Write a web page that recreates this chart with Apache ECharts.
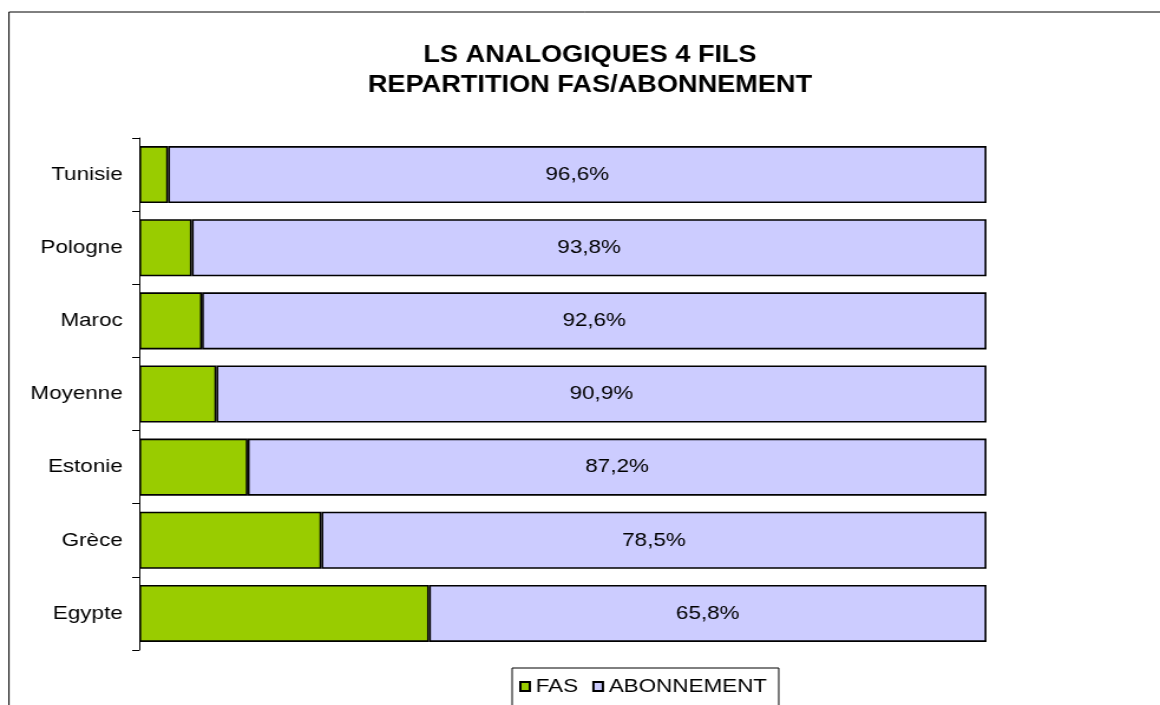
<!DOCTYPE html>
<html>
<head>
<meta charset="utf-8">
<script src="https://cdn.jsdelivr.net/npm/echarts@6/dist/echarts.min.js"></script>
<style>
  html, body { margin: 0; padding: 0; background: #fff; overflow: hidden; }
  /* the source picture is stretched sideways, so the chart is drawn narrower and widened */
  #chart { width: 983px; height: 705px; transform: scaleX(1.18); transform-origin: 0 0; }
</style>
</head>
<body>
<div id="chart"></div>
<script>
// categories bottom -> top
var pays = ['Egypte', 'Grèce', 'Estonie', 'Moyenne', 'Maroc', 'Pologne', 'Tunisie']
var fas = [34.2, 21.5, 12.8, 9.1, 7.4, 6.2, 3.4]
var abonnement = [65.8, 78.5, 87.2, 90.9, 92.6, 93.8, 96.6]

var myChart = echarts.init(document.getElementById('chart'))

var police = 'Arial, Liberation Sans, sans-serif'

var option = {
  animation: false,
  title: {
    text: 'LS ANALOGIQUES 4 FILS\nREPARTITION FAS/ABONNEMENT',
    left: 495,
    textAlign: 'center',
    top: 36,
    textStyle: {
      fontFamily: police,
      fontSize: 23,
      fontWeight: 'bold',
      color: '#000',
      lineHeight: 30
    }
  },
  graphic: [
    {
      type: 'rect',
      shape: { x: 7.6, y: 12, width: 1300, height: 900 },
      style: { fill: 'none', stroke: '#000', lineWidth: 1 },
      silent: true
    }
  ],
  legend: {
    data: ['FAS', 'ABONNEMENT'],
    icon: 'rect',
    left: 434,
    top: 668,
    padding: [9, 10, 12, 6],
    itemGap: 12,
    itemWidth: 8,
    itemHeight: 9,
    borderColor: '#000',
    borderWidth: 1,
    textStyle: { fontFamily: police, fontSize: 19, color: '#000' }
  },
  grid: {
    left: 118,
    right: 147,
    top: 138,
    bottom: 55,
    containLabel: false
  },
  xAxis: {
    type: 'value',
    min: 0,
    max: 100,
    show: false
  },
  yAxis: {
    type: 'category',
    data: pays,
    axisLine: { lineStyle: { color: '#000', width: 1 } },
    axisTick: { show: true, length: 6, lineStyle: { color: '#000' } },
    axisLabel: { fontFamily: police, fontSize: 19, color: '#000', margin: 14 }
  },
  series: [
    {
      name: 'FAS',
      type: 'bar',
      stack: 'total',
      barCategoryGap: '22%',
      data: fas,
      itemStyle: { color: '#99cc00', borderColor: '#000', borderWidth: 1.6 }
    },
    {
      name: 'ABONNEMENT',
      type: 'bar',
      stack: 'total',
      barCategoryGap: '22%',
      data: abonnement,
      itemStyle: { color: '#ccccff', borderColor: '#000', borderWidth: 1.6 },
      label: {
        show: true,
        position: 'inside',
        fontFamily: police,
        fontSize: 19,
        color: '#000',
        formatter: function (p) {
          return p.value.toFixed(1).replace('.', ',') + '%'
        }
      }
    }
  ]
}

myChart.setOption(option)
</script>
</body>
</html>
